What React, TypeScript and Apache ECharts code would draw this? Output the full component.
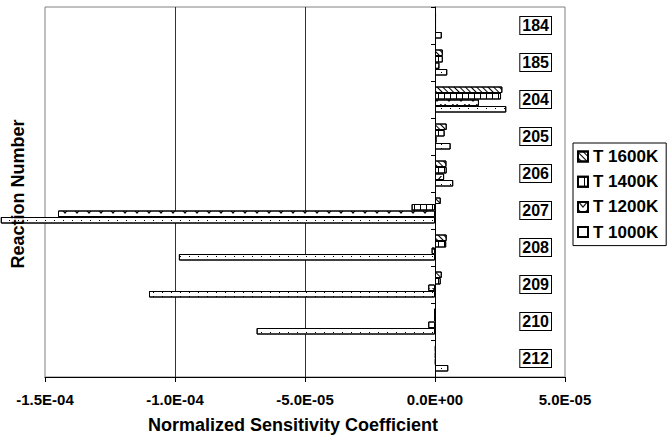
import React, { useEffect, useRef } from 'react';
import * as echarts from 'echarts';

const categories = ['184', '185', '204', '205', '206', '207', '208', '209', '210', '212'];
const seriesNames = ['T 1600K', 'T 1400K', 'T 1200K', 'T 1000K'];
const t1600 = [0.4e-6, 3.0e-6, 2.59e-5, 4.5e-6, 4.4e-6, 2.2e-6, 4.5e-6, 2.6e-6, -0.3e-6, 0.3e-6];
const t1400 = [0.4e-6, 3.0e-6, 2.54e-5, 3.7e-6, 4.5e-6, -9.0e-6, 4.3e-6, 2.2e-6, -0.3e-6, 0.3e-6];
const t1200 = [0.4e-6, 1.7e-6, 1.69e-5, 0.6e-6, 3.5e-6, -1.45e-4, -1.3e-6, -2.6e-6, -2.6e-6, 0.3e-6];
const t1000 = [2.6e-6, 4.7e-6, 2.74e-5, 6.0e-6, 7.0e-6, -1.67e-4, -9.85e-5, -1.1e-4, -6.86e-5, 5.1e-6];
const xMin = -1.5e-4;
const xMax = 5e-5;
const xInterval = 5e-5;

const FONT = "'Liberation Sans', Arial, sans-serif";

function fmtSci(v: number): string {
  if (Math.abs(v) < 1e-12) return '0.0E+00';
  const s = v.toExponential(1);
  const [m, e] = s.split('e');
  const n = parseInt(e, 10);
  const sign = n < 0 ? '-' : '+';
  const a = Math.abs(n);
  return `${m}E${sign}${a < 10 ? '0' + a : a}`;
}

const decals: any[] = [
  { symbol: 'rect', symbolSize: 1, dashArrayX: [1, 0], dashArrayY: [1, 3], rotation: Math.PI / 4, color: '#000', backgroundColor: '#fff' },
  { symbol: 'rect', symbolSize: 1, dashArrayX: [1, 5], dashArrayY: [1, 0], rotation: 0, color: '#000', backgroundColor: '#fff' },
  { symbol: 'path://M0,0 L5,6 L10,0 L8.6,0 L5,4.3 L1.4,0 Z', symbolSize: 1, dashArrayX: [10, 2], dashArrayY: [6, 2], rotation: 0, color: '#000', backgroundColor: '#fff' },
  { symbol: 'rect', symbolSize: 1, dashArrayX: [1, 8], dashArrayY: [1, 3], rotation: 0, color: '#000', backgroundColor: '#fff' },
];

export default function App() {
  const ref = useRef<HTMLDivElement>(null);
  useEffect(() => {
    if (!ref.current) return;
    const chart = echarts.init(ref.current, undefined, { renderer: 'svg' });
    const data = [t1600, t1400, t1200, t1000];
    chart.setOption({
      animation: false,
      textStyle: { fontFamily: FONT },
      grid: {
        left: 45, right: 103, top: 7, bottom: 65,
        show: true, borderColor: '#808080', borderWidth: 1, backgroundColor: 'transparent',
      },
      legend: {
        orient: 'vertical',
        left: 573, top: 143,
        data: seriesNames,
        borderColor: '#000', borderWidth: 1,
        padding: [5, 8, 5, 4],
        itemGap: 8.2,
        itemWidth: 10, itemHeight: 10,
        icon: 'rect',
        textStyle: { fontFamily: FONT, fontWeight: 'bold', fontSize: 17, color: '#000', lineHeight: 15 },
      },
      xAxis: {
        type: 'value',
        min: xMin, max: xMax, interval: xInterval,
        name: 'Normalized Sensitivity Coefficient',
        nameLocation: 'middle',
        nameGap: 39,
        nameTextStyle: { fontFamily: FONT, fontWeight: 'bold', fontSize: 18, color: '#000', padding: [0, 24, 0, 0] },
        axisLine: { show: true, onZero: false, lineStyle: { color: '#000', width: 1 } },
        axisTick: { show: true, length: 5, lineStyle: { color: '#000' } },
        axisLabel: { formatter: fmtSci, margin: 15, fontFamily: FONT, fontWeight: 'bold', fontSize: 15, color: '#000' },
        splitLine: { show: true, showMinLine: false, showMaxLine: false, lineStyle: { color: '#333', width: 1 } },
      },
      yAxis: [
        {
          type: 'category',
          data: categories,
          inverse: true,
          axisLine: { show: true, onZero: true, lineStyle: { color: '#000', width: 1 } },
          axisTick: { show: true, length: 4, lineStyle: { color: '#000' } },
          axisLabel: { show: false },
          splitLine: { show: false },
        },
        {
          type: 'category',
          data: categories,
          inverse: true,
          position: 'right',
          axisLine: { show: false },
          axisTick: { show: false },
          splitLine: { show: false },
          axisLabel: {
            inside: true, margin: 14,
            fontFamily: FONT, fontWeight: 'bold', fontSize: 16, lineHeight: 16, color: '#000',
            borderColor: '#000', borderWidth: 1, padding: [1, 2, 0, 2], backgroundColor: '#fff',
          },
        },
      ],
      graphic: [
        {
          type: 'text',
          x: 18, y: 194,
          rotation: Math.PI / 2,
          style: {
            text: 'Reaction Number',
            fontFamily: FONT, fontWeight: 'bold', fontSize: 18, fill: '#000',
            align: 'center', verticalAlign: 'middle',
          },
          z: 100,
        },
      ],
      series: seriesNames.map((name, i) => ({
        name,
        type: 'bar',
        yAxisIndex: 0,
        data: data[i],
        barWidth: 6.5,
        barGap: '0%',
        clip: i !== 3,
        itemStyle: { color: '#fff', borderColor: '#000', borderWidth: 1, decal: decals[i] },
      })),
    });
    return () => chart.dispose();
  }, []);
  return <div ref={ref} style={{ width: 668, height: 442, position: 'absolute', left: 0, top: 0 }} />;
}
